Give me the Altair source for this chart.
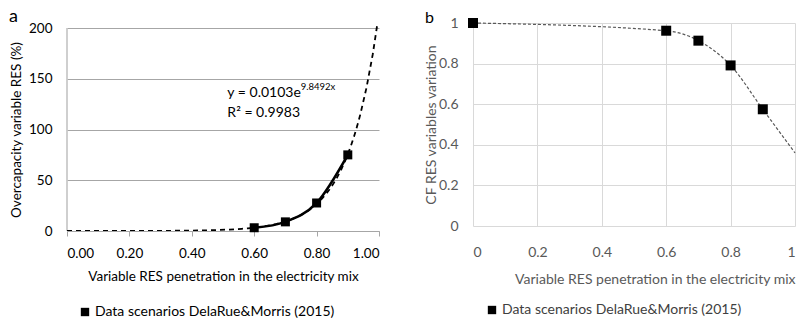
import altair as alt
import pandas as pd

# ---- data ----
series = "Data scenarios DelaRue&Morris (2015)"
x_title = "Variable RES penetration in the electricity mix"
a_y_title = "Overcapacity variable RES (%)"
b_y_title = "CF RES variables variation"
panel_a = "a"
panel_b = "b"

# panel a : overcapacity
a_x = [0.6, 0.7, 0.8, 0.9]
a_y = [3.2, 9.0, 27.6, 75.0]
a_ticks_x = [0, 0.2, 0.4, 0.6, 0.8, 1.0]
a_ticks_y = [0, 50, 100, 150, 200]
eq_main = "y = 0.0103e"
eq_sup = "9.8492x"
eq_r2 = "R² = 0.9983"

# panel b : CF variation
b_x = [0.0, 0.6, 0.7, 0.8, 0.9]
b_y = [1.0, 0.962, 0.913, 0.791, 0.575]
b_line_x = [0.0, 0.6, 0.7, 0.8, 0.9, 1.0]
b_line_y = [1.0, 0.962, 0.913, 0.791, 0.575, 0.36]
b_ticks = [0, 0.2, 0.4, 0.6, 0.8, 1.0]

FONT = "Lato"
GRAY_TXT = "#595959"

# ---------------- panel a ----------------
df_a = pd.DataFrame({"x": a_x, "y": a_y, "series": series})

xa = alt.X("x:Q", scale=alt.Scale(domain=[0, 1], nice=False),
           axis=alt.Axis(values=a_ticks_x, format=".2f", title=x_title, grid=False,
                         domainColor="#a6a6a6", tickColor="#a6a6a6", tickSize=5,
                         labelPadding=10, labelFontSize=13.5, labelColor="black",
                         titleFontSize=13.5, titleFontWeight="normal", titleColor="black",
                         titlePadding=10))
ya = alt.Y("y:Q", scale=alt.Scale(domain=[0, 200], nice=False, range=[208, 5]),
           axis=alt.Axis(values=a_ticks_y, title=a_y_title, grid=True, gridColor="#a6a6a6",
                         domain=False, ticks=False,
                         labelPadding=15, labelFontSize=13.5, labelColor="black",
                         titleFontSize=13.5, titleFontWeight="normal", titleColor="black",
                         titlePadding=5))

base_a = alt.Chart(df_a)
# y axis line (drawn at x = 0 over the 0..200 range of the scale)
yline_a = alt.Chart().mark_rule(color="#bfbfbf", strokeWidth=1.5).encode(
    x=alt.datum(0), y=alt.datum(0), y2=alt.datum(200))
trend_a = base_a.transform_regression("x", "y", method="exp", extent=[0, 1]).mark_line(
    color="black", strokeDash=[5, 4], strokeWidth=1.8, clip=True).encode(x=xa, y=ya)
solid_a = base_a.mark_line(color="black", strokeWidth=2.6, interpolate="monotone").encode(x=xa, y=ya)
pts_a = base_a.mark_square(size=81, opacity=1).encode(
    x=xa, y=ya,
    color=alt.Color("series:N", scale=alt.Scale(range=["black"]),
                    legend=alt.Legend(orient="none", legendX=11, legendY=282, title=None,
                                      symbolType="square", symbolSize=70, labelFontSize=14,
                                      labelColor="black", labelOffset=3, padding=0,
                                      labelLimit=400)))
eq1 = alt.Chart().mark_text(text=eq_main, align="left", baseline="middle", fontSize=14,
                             color="black").encode(x=alt.datum(0.514), y=alt.datum(136))
eq2 = alt.Chart().mark_text(text=eq_sup, align="left", baseline="middle", fontSize=9.5,
                             color="black").encode(x=alt.datum(0.749), y=alt.datum(141.5))
eq3 = alt.Chart().mark_text(text=eq_r2, align="left", baseline="middle", fontSize=14,
                             color="black").encode(x=alt.datum(0.514), y=alt.datum(116.6))
lab_a = alt.Chart().mark_text(text=panel_a, align="left", baseline="alphabetic", fontSize=18,
                               color="black").encode(x=alt.value(-58), y=alt.value(-1))

left = alt.layer(yline_a, trend_a, solid_a, pts_a, eq1, eq2, eq3, lab_a).properties(
    width=312, height=208)

# ---------------- panel b ----------------
df_b = pd.DataFrame({"x": b_x, "y": b_y, "series": series})
df_bl = pd.DataFrame({"x": b_line_x, "y": b_line_y})

xb = alt.X("x:Q", scale=alt.Scale(domain=[0, 1], nice=False),
           axis=alt.Axis(values=b_ticks, format="~g", title=x_title, grid=True,
                         gridColor="#d9d9d9", domain=False, ticks=False,
                         labelPadding=19, labelFontSize=14, labelColor=GRAY_TXT,
                         titleFontSize=14, titleFontWeight="normal", titleColor=GRAY_TXT,
                         titleAnchor="end", titlePadding=13))
yb = alt.Y("y:Q", scale=alt.Scale(domain=[0, 1], nice=False),
           axis=alt.Axis(values=b_ticks, format="~g", title=b_y_title, grid=True,
                         gridColor="#d9d9d9", domain=False, ticks=False,
                         labelPadding=15, labelFontSize=14, labelColor=GRAY_TXT,
                         titleFontSize=14, titleFontWeight="normal", titleColor=GRAY_TXT,
                         titlePadding=0))

line_b = alt.Chart(df_bl).mark_line(color="#595959", strokeDash=[3, 2], strokeWidth=1.2,
                                    interpolate="monotone").encode(x=xb, y=yb)
pts_b = alt.Chart(df_b).mark_square(size=100, opacity=1).encode(
    x=xb, y=yb,
    color=alt.Color("series:N", scale=alt.Scale(range=["black"]),
                    legend=alt.Legend(orient="none", legendX=12, legendY=280, title=None,
                                      symbolType="square", symbolSize=70, labelFontSize=14,
                                      labelColor="#404040", labelOffset=3, padding=0,
                                      labelLimit=400)))
lab_b = alt.Chart().mark_text(text=panel_b, align="left", baseline="alphabetic", fontSize=16,
                               color="black").encode(x=alt.value(-48), y=alt.value(0))

right = alt.layer(line_b, pts_b, lab_b).properties(width=322, height=203)

chart = alt.hconcat(left, right, spacing=44).resolve_scale(
    x="independent", y="independent", color="independent"
).configure(
    font=FONT, padding={"left": 1, "top": 0, "right": 0, "bottom": 0}
).configure_view(stroke=None).configure_legend(labelFont=FONT).configure_axis(
    labelFont=FONT, titleFont=FONT)

chart.save("out.html", embed_options={"renderer": "svg", "actions": False})
